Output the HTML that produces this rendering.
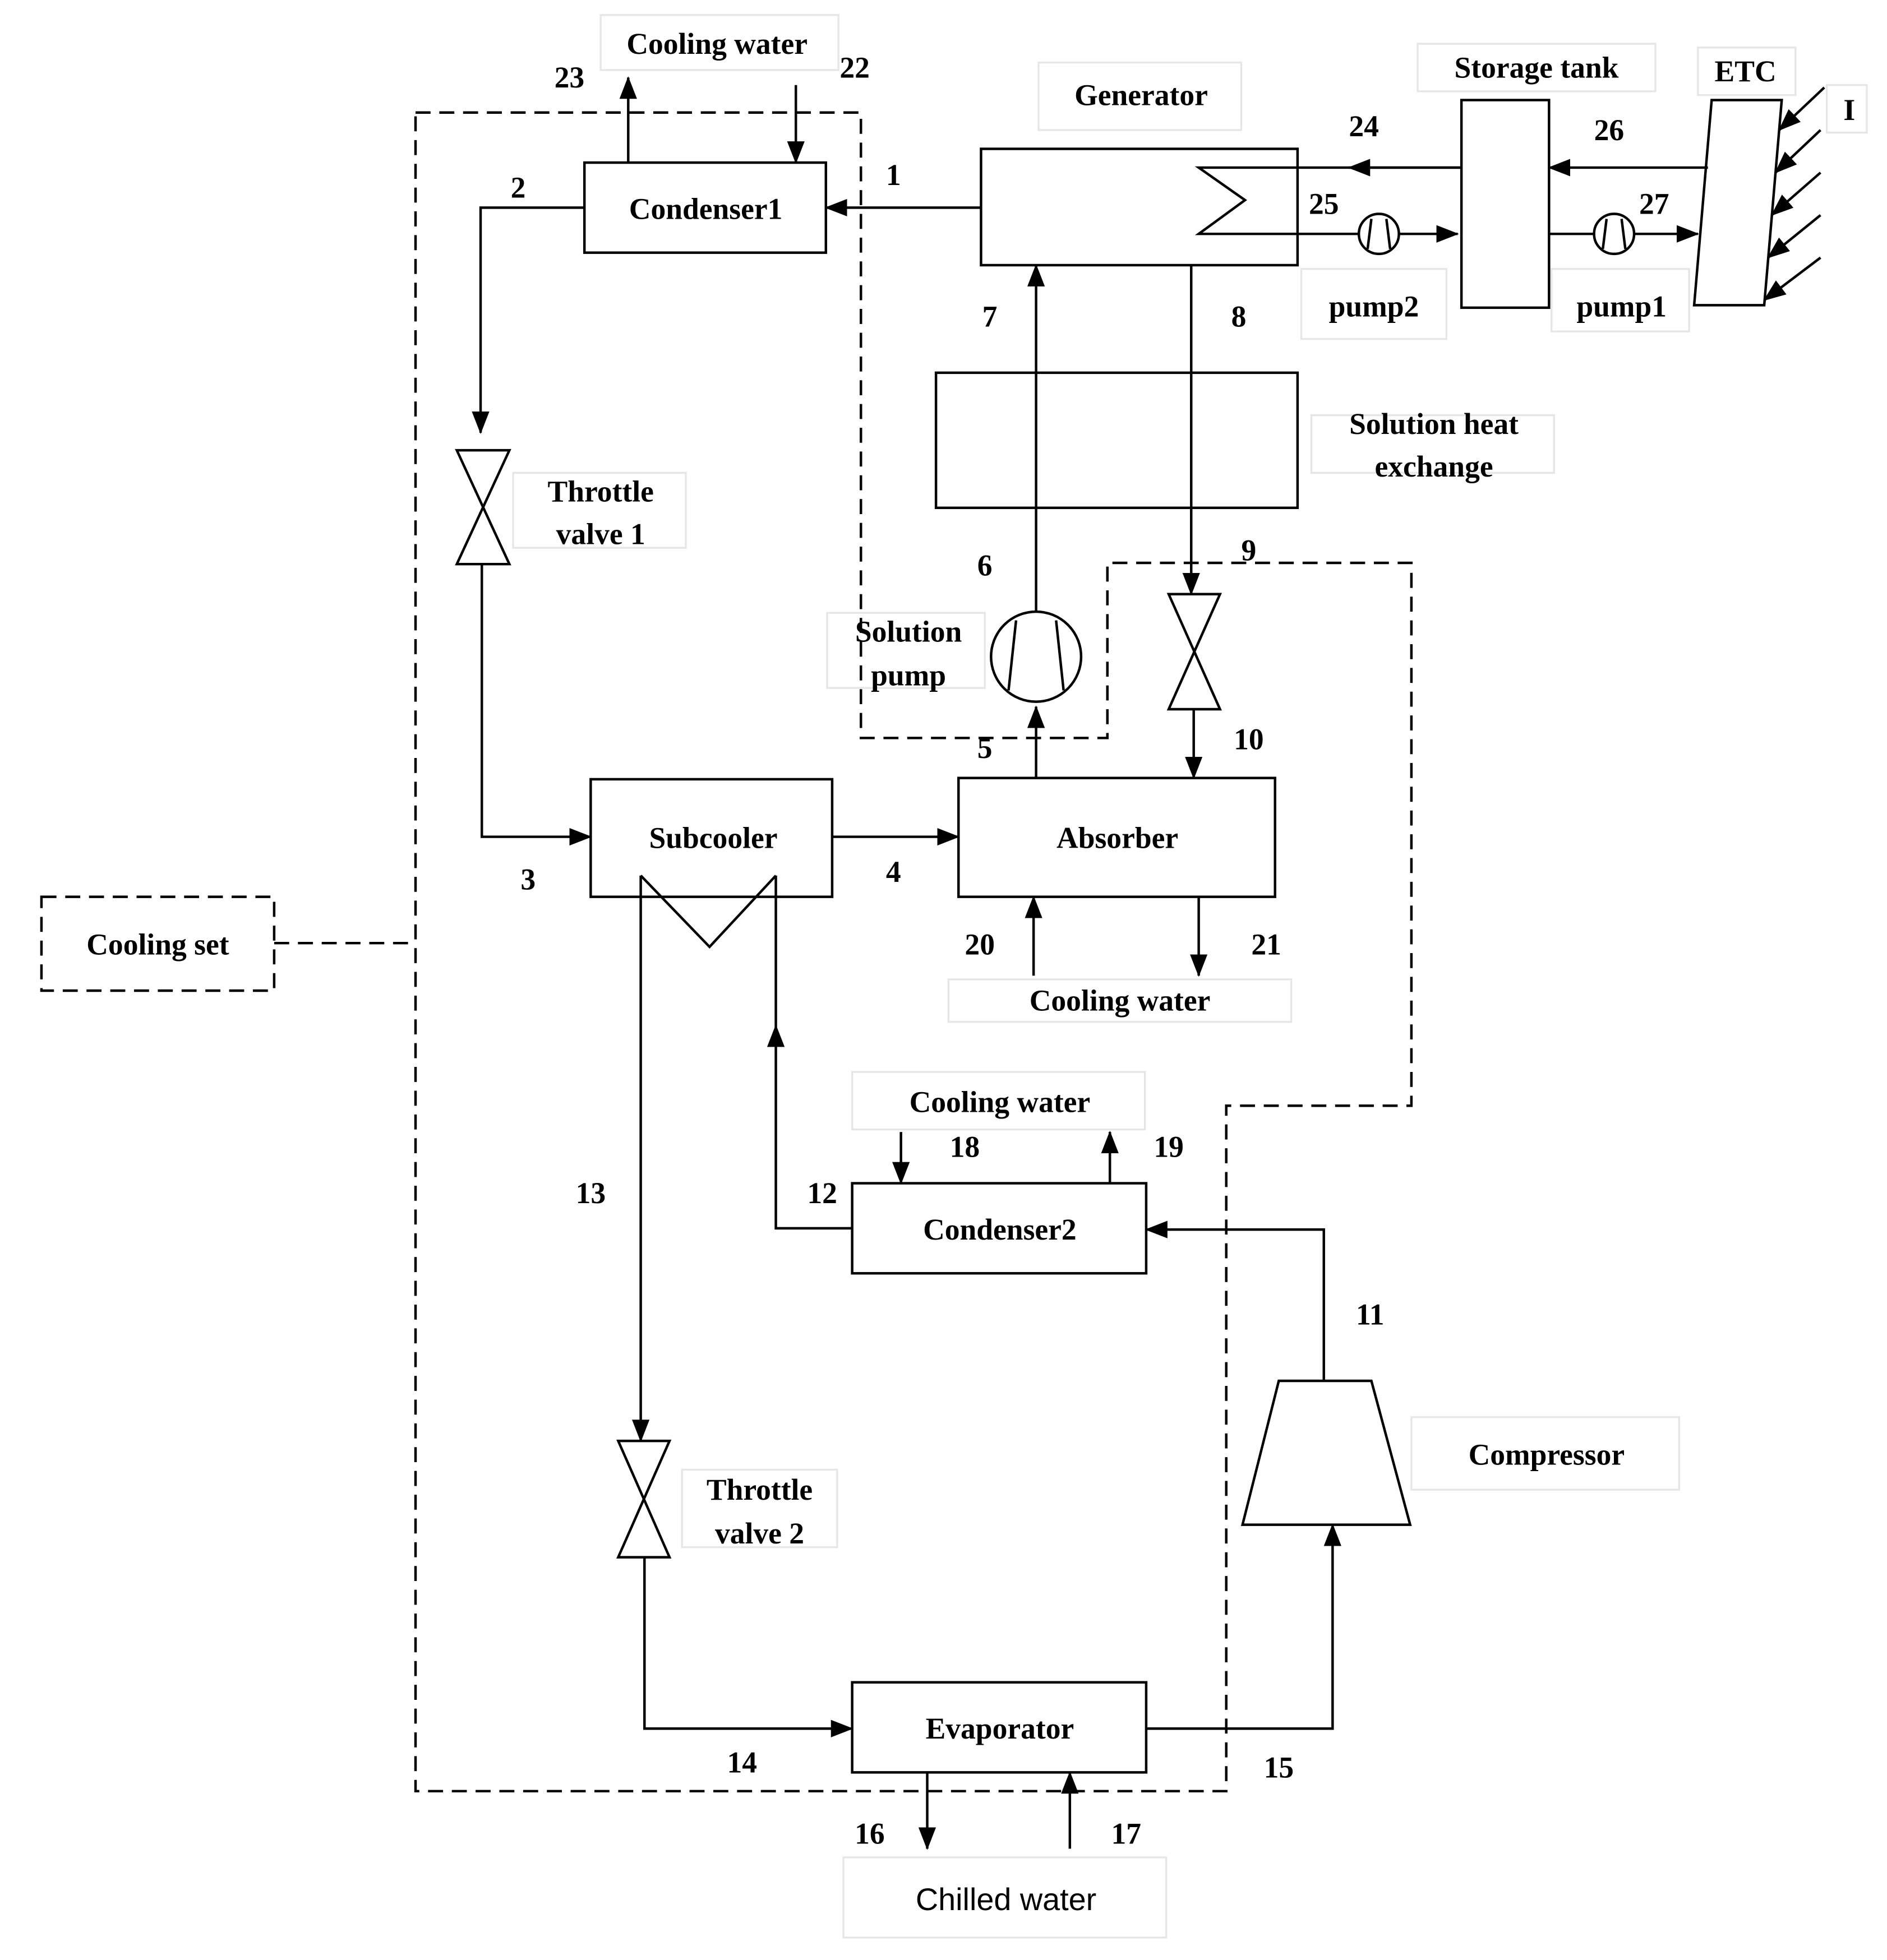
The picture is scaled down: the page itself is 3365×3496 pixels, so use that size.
<!DOCTYPE html>
<html><head><meta charset="utf-8"><style>
html,body{margin:0;padding:0;background:#fff;}
svg{display:block;}
text{font-family:"Liberation Serif",serif;font-size:24px;fill:#000;font-weight:bold;}
</style></head><body>
<svg width="3365" height="3496" viewBox="0 0 1508 1567" xmlns="http://www.w3.org/2000/svg">
<defs>
<marker id="b" markerWidth="18" markerHeight="14" refX="17" refY="7" orient="auto" markerUnits="userSpaceOnUse" viewBox="0 0 18 14">
<path d="M0,0 L18,7 L0,14 z" fill="#000"/></marker>
</defs>
<g fill="none" stroke="#000" stroke-width="2">
<path d="M332,90 H688 V590 H885 V450 H1128 V884 H980 V1432 H332 Z" stroke-dasharray="12,7"/>
<rect x="33" y="717" width="186" height="75" stroke-dasharray="12,7"/>
<path d="M219,754 H332" stroke-dasharray="12,7"/>
<g stroke="#e6e6e6" stroke-width="1.5">
<rect x="480" y="12" width="190" height="44"/>
<rect x="830" y="50" width="162" height="54"/>
<rect x="1133" y="35" width="190" height="38"/>
<rect x="1357" y="38" width="78" height="38"/>
<rect x="1460" y="68" width="32" height="38"/>
<rect x="1040" y="215" width="116" height="56"/>
<rect x="1240" y="215" width="110" height="50"/>
<rect x="1048" y="332" width="194" height="46"/>
<rect x="410" y="378" width="138" height="60"/>
<rect x="661" y="490" width="126" height="60"/>
<rect x="758" y="783" width="274" height="34"/>
<rect x="681" y="857" width="234" height="46"/>
<rect x="1128" y="1133" width="214" height="58"/>
<rect x="545" y="1175" width="124" height="62"/>
<rect x="674" y="1485" width="258" height="64"/>
</g>
<rect x="467" y="130" width="193" height="72"/>
<rect x="784" y="119" width="253" height="93"/>
<rect x="1168" y="80" width="70" height="166"/>
<path d="M1368,80 L1424,80 L1410,244 L1354,244 Z"/>
<rect x="748" y="298" width="289" height="108"/>
<rect x="472" y="623" width="193" height="94"/>
<rect x="766" y="622" width="253" height="95"/>
<rect x="681" y="946" width="235" height="72"/>
<rect x="681" y="1345" width="235" height="72"/>
<path d="M1022,1104 L1096,1104 L1127,1219 L993,1219 Z"/>
<path d="M1037,134 L958,134 L995,160 L958,187 L1037,187"/>
<path d="M512,700 L567,757 L620,700"/>
<path d="M365,360 L407,360 L365,451 L407,451 Z"/>
<path d="M934,475 L975,475 L934,567 L975,567 Z"/>
<path d="M494,1152 L535,1152 L494,1245 L535,1245 Z"/>
<circle cx="828" cy="525" r="36"/>
<path d="M812,496 L806,552 M844,496 L850,552"/>
<circle cx="1102" cy="187" r="16"/>
<path d="M1096,175 L1093,199 M1108,175 L1111,199"/>
<circle cx="1290" cy="187" r="16"/>
<path d="M1284,175 L1281,199 M1296,175 L1299,199"/>
<path d="M1365,134 H1238" marker-end="url(#b)"/>
<path d="M1168,134 H1037"/>
<path d="M1168,134 H1078" marker-end="url(#b)"/>
<path d="M1037,187 H1086 M1118,187 H1165" marker-end="url(#b)"/>
<path d="M1238,187 H1274 M1306,187 H1357" marker-end="url(#b)"/>
<path d="M784,166 H660" marker-end="url(#b)"/>
<path d="M502,130 V62" marker-end="url(#b)"/>
<path d="M636,68 V130" marker-end="url(#b)"/>
<path d="M467,166 H384 V346" marker-end="url(#b)"/>
<path d="M385,451 V669 H472" marker-end="url(#b)"/>
<path d="M665,669 H766" marker-end="url(#b)"/>
<path d="M828,622 V565" marker-end="url(#b)"/>
<path d="M828,489 V212" marker-end="url(#b)"/>
<path d="M952,212 V475" marker-end="url(#b)"/>
<path d="M954,567 V622" marker-end="url(#b)"/>
<path d="M826,780 V717" marker-end="url(#b)"/>
<path d="M958,717 V780" marker-end="url(#b)"/>
<path d="M512,700 V1152" marker-end="url(#b)"/>
<path d="M681,982 H620 V820" marker-end="url(#b)"/>
<path d="M620,820 V700"/>
<path d="M720,905 V946" marker-end="url(#b)"/>
<path d="M887,946 V905" marker-end="url(#b)"/>
<path d="M1058,1104 V983 H916" marker-end="url(#b)"/>
<path d="M916,1382 H1065 V1219" marker-end="url(#b)"/>
<path d="M515,1245 V1382 H681" marker-end="url(#b)"/>
<path d="M741,1417 V1478" marker-end="url(#b)"/>
<path d="M855,1478 V1417" marker-end="url(#b)"/>
<path d="M1458,70 L1422,104" marker-end="url(#b)"/>
<path d="M1455,104 L1419,138" marker-end="url(#b)"/>
<path d="M1455,138 L1416,172" marker-end="url(#b)"/>
<path d="M1455,172 L1413,206" marker-end="url(#b)"/>
<path d="M1455,206 L1410,240" marker-end="url(#b)"/>
</g>
<g text-anchor="middle">
<text x="573" y="43">Cooling water</text>
<text x="455" y="70">23</text>
<text x="683" y="62">22</text>
<text x="912" y="84">Generator</text>
<text x="1228" y="62">Storage tank</text>
<text x="1395" y="65">ETC</text>
<text x="1478" y="96">I</text>
<text x="1090" y="109">24</text>
<text x="1286" y="112">26</text>
<text x="1058" y="171">25</text>
<text x="1322" y="171">27</text>
<text x="1098" y="253">pump2</text>
<text x="1296" y="253">pump1</text>
<text x="714" y="148">1</text>
<text x="414" y="158">2</text>
<text x="564" y="175">Condenser1</text>
<text x="791" y="261">7</text>
<text x="990" y="261">8</text>
<text x="1146" y="347">Solution heat</text>
<text x="1146" y="381">exchange</text>
<text x="480" y="401">Throttle</text>
<text x="480" y="435">valve 1</text>
<text x="787" y="460">6</text>
<text x="998" y="448">9</text>
<text x="726" y="513">Solution</text>
<text x="726" y="548">pump</text>
<text x="787" y="606">5</text>
<text x="998" y="599">10</text>
<text x="570" y="678">Subcooler</text>
<text x="893" y="678">Absorber</text>
<text x="422" y="711">3</text>
<text x="714" y="705">4</text>
<text x="126" y="763">Cooling set</text>
<text x="783" y="763">20</text>
<text x="1012" y="763">21</text>
<text x="895" y="808">Cooling water</text>
<text x="799" y="889">Cooling water</text>
<text x="771" y="925">18</text>
<text x="934" y="925">19</text>
<text x="472" y="962">13</text>
<text x="657" y="962">12</text>
<text x="799" y="991">Condenser2</text>
<text x="1095" y="1059">11</text>
<text x="1236" y="1171">Compressor</text>
<text x="607" y="1199">Throttle</text>
<text x="607" y="1234">valve 2</text>
<text x="799" y="1390">Evaporator</text>
<text x="593" y="1417">14</text>
<text x="1022" y="1421">15</text>
<text x="695" y="1474">16</text>
<text x="900" y="1474">17</text>
<text x="804" y="1527" style="font-family:'Liberation Sans',sans-serif;font-size:25px;font-weight:normal">Chilled water</text>
</g>
</svg>
</body></html>
